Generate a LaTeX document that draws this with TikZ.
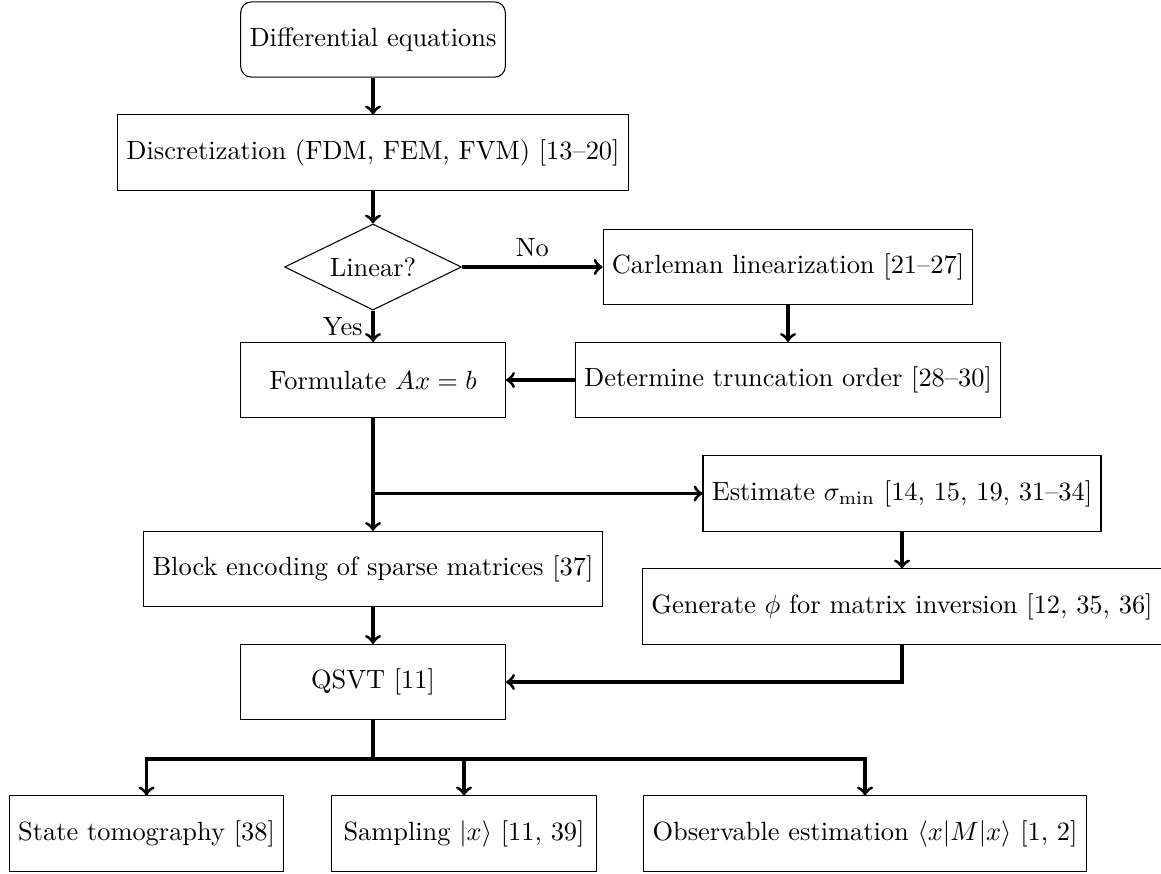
\documentclass[tikz,border=0pt]{standalone}
\usetikzlibrary{shapes.geometric}
\begin{document}
\begin{tikzpicture}[x=0.3788pt, y=-0.3788pt,
  box/.style={draw, rectangle, minimum height=1cm, line width=0.4pt, inner sep=3.33pt},
  wbox/.style={box, minimum width=100.4pt},
  flow/.style={line width=1.2pt, ->},
  link/.style={line width=1.2pt}]
\useasboundingbox (0,0) rectangle (1161,873);
\node[box, rounded corners=4pt] (diff) at (373,39.5) {Differential equations};
\node[box] (disc) at (373,152.5) {Discretization (FDM, FEM, FVM) [13--20]};
\node[draw, diamond, aspect=2, minimum width=67pt, minimum height=32.6pt, inner sep=1pt] (lin) at (373,267) {Linear?};
\node[box] (carl) at (788,267) {Carleman linearization [21--27]};
\node[wbox] (form) at (373,380) {Formulate $Ax=b$};
\node[box] (det) at (788,380) {Determine truncation order [28--30]};
\node[box] (est) at (902,493.5) {Estimate $\sigma_{\min}$ [14, 15, 19, 31--34]};
\node[box] (block) at (373,569) {Block encoding of sparse matrices [37]};
\node[box] (gen) at (902,606.5) {Generate $\phi$ for matrix inversion [12, 35, 36]};
\node[wbox] (qsvt) at (373,682) {QSVT [11]};
\node[wbox] (tomo) at (146.5,833.5) {State tomography [38]};
\node[wbox] (samp) at (464,833.5) {Sampling $|x\rangle$ [11, 39]};
\node[wbox] (obs) at (865,833.5) {Observable estimation $\langle x|M|x\rangle$ [1, 2]};
\coordinate (split) at (373,759);

\draw[flow] (diff) -- (disc);
\draw[flow] (disc) -- (lin);
\draw[flow] (lin) -- node[above] {No} (carl);
\draw[flow] (lin) -- node[left] {Yes} (form);
\draw[flow] (carl) -- (carl.south |- det.north);
\draw[flow] (det) -- (form);
\draw[flow] (form) -- (block);
\draw[flow] (form.south |- est.west) -- (est.west);
\draw[flow] (est) -- (gen);
\draw[flow] (gen.south) |- (qsvt.east);
\draw[flow] (block) -- (qsvt);
\draw[link] (qsvt.south) -- (split);
\draw[flow] (split) -| (tomo.north);
\draw[flow] (split) -| (samp.north);
\draw[flow] (split) -| (obs.north);
\end{tikzpicture}
\end{document}
